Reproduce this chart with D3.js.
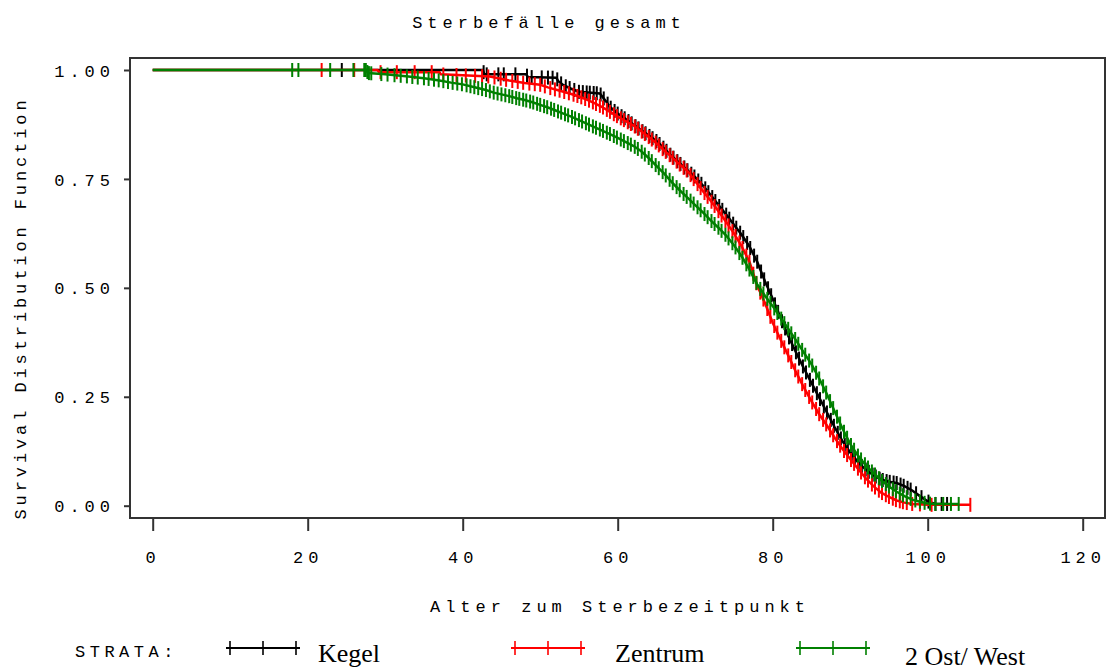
<!DOCTYPE html>
<html>
<head>
<meta charset="utf-8">
<script src="https://cdn.jsdelivr.net/npm/d3@7"></script>
<style>
  body { margin: 0; background: #fff; }
  svg { display: block; }
  .mono { font-family: "Courier New", "Liberation Mono", monospace; font-size: 17px; letter-spacing: 5px; fill: #000; }
  .leg { font-family: "Times New Roman", "Liberation Serif", serif; font-size: 26px; fill: #000; }
</style>
</head>
<body>
<svg id="chart" width="1110" height="670"></svg>
<script>
  "use strict";

  const TITLE = "Sterbefälle gesamt";
  const X_LABEL = "Alter zum Sterbezeitpunkt";
  const Y_LABEL = "Survival Distribution Function";
  const X_TICKS = [0, 20, 40, 60, 80, 100, 120];
  const Y_TICKS = [0, 0.25, 0.5, 0.75, 1];
  const STRATA = ["Kegel", "Zentrum", "2 Ost/ West"];
  const COLORS = ["#000000", "#ff0000", "#008000"];

  // survival curves: [age, S(age)]
  const KEGEL = [[0,1],[42.6,1],[42.8,0.99],[48.2,0.99],[48.4,0.984],[52.1,0.982],[52.3,0.975],[53,0.965],[54,0.957],[55,0.95],
    [57.7,0.946],[58.5,0.928],[59,0.915],[60,0.9],[61,0.888],[62,0.875],[63,0.862],[64,0.85],[65,0.837],[66,0.82],[67,0.802],
    [68,0.786],[69,0.77],[70,0.754],[71,0.735],[72,0.713],[73,0.69],[74,0.668],[75,0.645],[76,0.622],[77,0.595],[78,0.56],
    [79,0.515],[80,0.475],[81,0.432],[82,0.39],[83,0.352],[84,0.316],[85,0.282],[86,0.248],[87,0.214],[88,0.18],[89,0.148],
    [90,0.122],[91,0.1],[92,0.083],[93,0.07],[94,0.06],[95,0.055],[96,0.052],[97,0.045],[98,0.035],[99,0.022],[100,0.01],[101,0.004]];

  const ZENTRUM = [[0,1],[29,1],[29.2,0.995],[37,0.995],[37.2,0.99],[43.5,0.985],[46,0.976],[48,0.97],[50,0.966],[51,0.96],
    [52.2,0.954],[53,0.95],[54,0.945],[55.2,0.938],[56,0.932],[57,0.924],[58,0.915],[59,0.904],[60,0.893],[61,0.883],[62,0.873],
    [63,0.86],[64,0.846],[65,0.832],[66,0.815],[67,0.8],[68,0.783],[69,0.768],[70,0.745],[71,0.722],[72,0.7],[73,0.676],
    [74,0.651],[75,0.625],[76,0.595],[77,0.56],[78,0.505],[79,0.465],[80,0.42],[81,0.382],[82,0.345],[83,0.307],[84,0.272],
    [85,0.24],[86,0.21],[87,0.184],[88,0.156],[89,0.13],[90,0.107],[91,0.085],[92,0.063],[93,0.045],[94,0.03],[95,0.02],
    [96,0.012],[97,0.007],[98,0.004],[100,0.002]];

  const OSTWEST = [[0,1],[27.5,1],[27.8,0.993],[30,0.99],[33,0.985],[35,0.981],[37,0.976],[38.5,0.971],[40,0.967],[41.4,0.961],
    [43,0.954],[44,0.948],[45,0.944],[46,0.94],[47,0.935],[48,0.931],[49,0.926],[50,0.92],[51,0.914],[52,0.907],[53,0.9],
    [54,0.893],[55,0.885],[56,0.877],[57,0.869],[58,0.861],[59,0.853],[60,0.844],[61,0.835],[62,0.826],[63,0.814],[64,0.798],
    [65,0.78],[66,0.762],[67,0.742],[68,0.724],[69,0.707],[70,0.69],[71,0.673],[72,0.655],[73,0.638],[74,0.62],[75,0.598],
    [76,0.572],[77,0.542],[78,0.508],[79,0.482],[80,0.458],[81,0.432],[82,0.406],[83,0.38],[84,0.352],[85,0.325],[86,0.292],
    [87,0.256],[88,0.216],[89,0.177],[90,0.142],[91,0.115],[92,0.093],[93,0.075],[94,0.058],[95,0.044],[96,0.032],[97,0.022],
    [98,0.014],[99,0.009],[100,0.005],[101,0.004]];

  // censored ages (tick marks)
  const KEGEL_CENS = [24.4,42.7,43.1,44.6,45.3,46.8,48.3,48.9,50.2,51.0,51.6,52.2,52.7,53.3,53.8,54.4,55.0,55.5,56.0,56.4,56.9,
    57.3,57.8,58.2,58.7,59.1,59.6,60.0,60.5,60.9,61.4,61.8,62.3,62.7,63.2,63.6,64.1,64.5,65.0,65.4,65.9,66.3,66.8,67.2,67.7,
    68.1,68.6,69.0,69.5,69.9,70.4,70.8,71.3,71.7,72.2,72.6,73.1,73.5,74.0,74.4,74.9,75.3,75.8,76.2,76.7,77.1,77.6,78.0,78.5,
    78.9,79.4,79.8,80.3,80.7,81.2,81.6,82.1,82.5,83.0,83.4,83.9,84.3,84.8,85.2,85.7,86.1,86.6,87.0,87.5,87.9,88.4,88.8,89.3,
    89.7,90.2,90.6,91.1,91.5,92.0,92.4,92.9,93.3,93.8,94.2,94.7,95.1,95.6,96.0,96.5,96.9,97.4,97.8,98.5,99.2,100.1,101.0,
    101.8,102.5];

  const ZENTRUM_CENS = [21.8,26.0,29.4,31.5,33.8,36.0,37.5,39.2,40.4,41.6,42.5,43.3,44.1,44.9,45.6,46.4,47.1,47.8,48.6,49.3,
    50.0,50.6,51.3,51.9,52.5,53.1,53.7,54.3,54.8,55.3,55.8,56.3,56.8,57.2,57.7,58.1,58.6,59.0,59.5,59.9,60.4,60.8,61.3,61.7,
    62.2,62.6,63.1,63.5,64.0,64.4,64.9,65.3,65.8,66.2,66.7,67.1,67.6,68.0,68.5,68.9,69.4,69.8,70.3,70.7,71.2,71.6,72.1,72.5,
    73.0,73.4,73.9,74.3,74.8,75.2,75.7,76.1,76.6,77.0,77.5,77.9,78.4,78.8,79.3,79.7,80.2,80.6,81.1,81.5,82.0,82.4,82.9,83.3,
    83.8,84.2,84.7,85.1,85.6,86.0,86.5,86.9,87.4,87.8,88.3,88.7,89.2,89.6,90.1,90.5,91.0,91.4,91.9,92.3,92.8,93.2,93.7,94.1,
    94.6,95.0,95.5,95.9,96.4,96.8,97.3,98.0,99.0,100.5,105.5];

  const OSTWEST_CENS = [18.0,18.8,22.9,25.9,27.3,27.5,27.7,27.9,28.2,29.5,30.3,31.2,32.0,32.8,33.5,34.2,35.0,35.6,36.3,36.9,
    37.5,38.1,38.7,39.3,39.9,40.5,41.0,41.5,42.0,42.5,43.0,43.5,44.0,44.5,45.0,45.5,46.0,46.4,46.9,47.3,47.8,48.2,48.7,49.1,
    49.6,50.0,50.5,50.9,51.4,51.8,52.3,52.7,53.2,53.6,54.1,54.5,55.0,55.4,55.9,56.3,56.8,57.2,57.7,58.1,58.6,59.0,59.5,59.9,
    60.4,60.8,61.3,61.7,62.2,62.6,63.1,63.5,64.0,64.4,64.9,65.3,65.8,66.2,66.7,67.1,67.6,68.0,68.5,68.9,69.4,69.8,70.3,70.7,
    71.2,71.6,72.1,72.5,73.0,73.4,73.9,74.3,74.8,75.2,75.7,76.1,76.6,77.0,77.5,77.9,78.4,78.8,79.3,79.7,80.2,80.6,81.1,81.5,
    82.0,82.4,82.9,83.3,83.8,84.2,84.7,85.1,85.6,86.0,86.5,86.9,87.4,87.8,88.3,88.7,89.2,89.6,90.1,90.5,91.0,91.4,91.9,92.3,
    92.8,93.2,93.7,94.1,94.6,95.0,95.5,95.9,96.4,96.8,97.3,97.8,98.4,99.0,99.6,100.3,101.0,102.0,103.0,104.0];

  const CURVES = [KEGEL, ZENTRUM, OSTWEST];
  const CENS = [KEGEL_CENS, ZENTRUM_CENS, OSTWEST_CENS];

  const svg = d3.select("#chart");
  const FRAME = { left: 130, top: 58, right: 1105, bottom: 518 };

  const x = d3.scaleLinear().domain([0, 120]).range([152.7, 1082.7]);
  const y = d3.scaleLinear().domain([0, 1]).range([505.7, 70]);

  // frame
  svg.append("rect")
    .attr("x", FRAME.left).attr("y", FRAME.top)
    .attr("width", FRAME.right - FRAME.left).attr("height", FRAME.bottom - FRAME.top)
    .attr("fill", "none").attr("stroke", "#333").attr("stroke-width", 2);

  // axes
  const xAxis = svg.append("g").attr("transform", `translate(0,${FRAME.bottom})`)
    .call(d3.axisBottom(x).tickValues(X_TICKS).tickFormat(d3.format("d")).tickSize(13).tickPadding(20).tickSizeOuter(0));
  const yAxis = svg.append("g").attr("transform", `translate(${FRAME.left},0)`)
    .call(d3.axisLeft(y).tickValues(Y_TICKS).tickFormat(d3.format(".2f")).tickSize(6).tickPadding(9).tickSizeOuter(0));
  [xAxis, yAxis].forEach(a => {
    a.select(".domain").remove();
    a.selectAll(".tick line").attr("stroke", "#333").attr("stroke-width", 2);
    a.selectAll(".tick text").attr("class", "mono").attr("font-family", null).attr("font-size", null).attr("fill", null);
  });
  yAxis.selectAll(".tick text").attr("dy", "0.36em");

  // curves, black first, green on top
  const line = d3.line().x(d => x(d[0])).y(d => y(d[1]));
  CURVES.forEach((pts, i) => {
    const lookup = d3.scaleLinear().domain(pts.map(d => d[0])).range(pts.map(d => d[1])).clamp(true);
    const last = d3.max(CENS[i]);
    const path = pts.concat([[last, pts[pts.length - 1][1]]]);
    const g = svg.append("g");
    g.append("path").datum(path)
      .attr("d", line).attr("fill", "none")
      .attr("stroke", COLORS[i]).attr("stroke-width", 2.5);
    g.selectAll("line.cens").data(CENS[i]).join("line")
      .attr("class", "cens")
      .attr("x1", d => x(d)).attr("x2", d => x(d))
      .attr("y1", d => y(lookup(d)) - 7).attr("y2", d => y(lookup(d)) + 7)
      .attr("stroke", COLORS[i]).attr("stroke-width", 2);
  });

  // texts
  svg.append("text").attr("class", "mono").attr("x", 549).attr("y", 28)
    .attr("text-anchor", "middle").text(TITLE);
  svg.append("text").attr("class", "mono").attr("x", 620).attr("y", 612)
    .attr("text-anchor", "middle").text(X_LABEL);
  svg.append("text").attr("class", "mono")
    .attr("transform", "translate(26,308) rotate(-90)")
    .attr("text-anchor", "middle").style("letter-spacing", "3.9px").text(Y_LABEL);

  // legend
  svg.append("text").attr("class", "mono").attr("x", 75).attr("y", 657)
    .style("letter-spacing", "4.5px").text("STRATA:");
  const LEG_X = [226, 511, 796];
  const LEG_TEXT_X = [318, 615, 905];
  const LEG_BASE = [662, 662, 665];
  STRATA.forEach((name, i) => {
    const lg = svg.append("g").attr("transform", `translate(${LEG_X[i]},648)`);
    lg.append("line").attr("x1", 0).attr("x2", 74).attr("y1", 0).attr("y2", 0)
      .attr("stroke", COLORS[i]).attr("stroke-width", 2);
    [4, 37, 70].forEach(t => {
      lg.append("line").attr("x1", t).attr("x2", t).attr("y1", -7).attr("y2", 7)
        .attr("stroke", COLORS[i]).attr("stroke-width", 1.6);
    });
    svg.append("text").attr("class", "leg").attr("x", LEG_TEXT_X[i]).attr("y", LEG_BASE[i]).text(name);
  });
</script>
</body>
</html>
